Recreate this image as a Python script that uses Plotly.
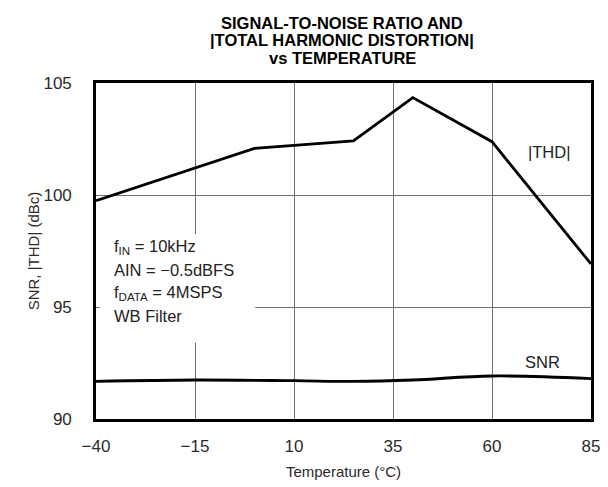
import plotly.graph_objects as go

temp_thd = [-40, 0, 25, 40, 60, 85]
thd = [99.75, 102.08, 102.42, 104.35, 102.38, 96.92]

temp_snr = [-40, -15, 10, 25, 40, 60, 85]
snr = [91.68, 91.74, 91.71, 91.68, 91.74, 91.92, 91.8]

x_ticks = [-40, -15, 10, 35, 60, 85]
x_tick_labels = ["\u221240", "\u221215", "10", "35", "60", "85"]
y_ticks = [90, 95, 100, 105]

title_lines = ["SIGNAL-TO-NOISE RATIO AND", "|TOTAL HARMONIC DISTORTION|", "vs TEMPERATURE"]
cond_lines = ["f<sub>IN</sub> = 10kHz", "AIN = \u22120.5dBFS",
              "f<sub>DATA</sub> = 4MSPS", "WB Filter"]

FONT = "Liberation Sans, Arial, sans-serif"
W, H = 608, 487
ML, MR, MT, MB = 96, 17, 83, 68


def px_to_paper(px, py):
    return (px - ML) / (W - ML - MR), 1 - (py - MT) / (H - MT - MB)


fig = go.Figure()
fig.add_trace(go.Scatter(x=temp_thd, y=thd, mode="lines",
                         line=dict(color="black", width=2.8), name="|THD|"))
fig.add_trace(go.Scatter(x=temp_snr, y=snr, mode="lines",
                         line=dict(color="black", width=2.8, shape="spline", smoothing=1.0),
                         name="SNR"))

fig.update_layout(
    width=W, height=H,
    margin=dict(l=ML, r=MR, t=MT, b=MB, autoexpand=False),
    paper_bgcolor="white", plot_bgcolor="white",
    showlegend=False,
    font=dict(family=FONT, color="#222", size=14),
)

fig.update_xaxes(
    range=[-40, 85], tickvals=x_ticks, ticktext=x_tick_labels,
    showgrid=True, gridcolor="#707070", gridwidth=1,
    showline=True, linecolor="black", linewidth=2.6, mirror=True,
    zeroline=False, ticks="", ticklabelstandoff=10, automargin=False,
    tickfont=dict(size=17, color="#2a2a2a"),
    title=dict(text="Temperature (\u00b0C)", font=dict(size=15, color="#2a2a2a"), standoff=12),
)
fig.update_yaxes(
    range=[90, 105], tickvals=y_ticks,
    showgrid=True, gridcolor="#707070", gridwidth=1,
    showline=True, linecolor="black", linewidth=2.6, mirror=True,
    zeroline=False, ticks="", ticklabelstandoff=18, automargin=False,
    tickfont=dict(size=17, color="#2a2a2a"),
    title=dict(text="SNR, |THD| (dBc)", font=dict(size=15, color="#2a2a2a"), standoff=1),
)

# title lines
for i, t in enumerate(title_lines):
    tx, ty = px_to_paper(342, 23 + 17.5 * i)
    fig.add_annotation(x=tx, y=ty, xref="paper", yref="paper", text="<b>%s</b>" % t,
                       showarrow=False, xanchor="center", yanchor="middle",
                       font=dict(size=16.5, color="black"))

# white box behind the condition text
fig.add_shape(type="rect", xref="x", yref="y", x0=-39, x1=0.2, y0=93.4, y1=98.25,
              fillcolor="white", line=dict(width=0), layer="above")

for i, t in enumerate(cond_lines):
    cx, cy = px_to_paper(112, 247 + 23 * i)
    fig.add_annotation(x=cx, y=cy, xref="paper", yref="paper",
                       text=t, showarrow=False, xanchor="left", yanchor="middle",
                       font=dict(size=16.5, color="#222"))

fig.add_annotation(x=74.4, y=101.9, xref="x", yref="y", text="|THD|", showarrow=False,
                   font=dict(size=16.5, color="#222"))
fig.add_annotation(x=72.8, y=92.55, xref="x", yref="y", text="SNR", showarrow=False,
                   font=dict(size=16.5, color="#222"))

fig.write_html("out.html", config={"displayModeBar": False},
               post_script="document.body.style.margin='0px';")
